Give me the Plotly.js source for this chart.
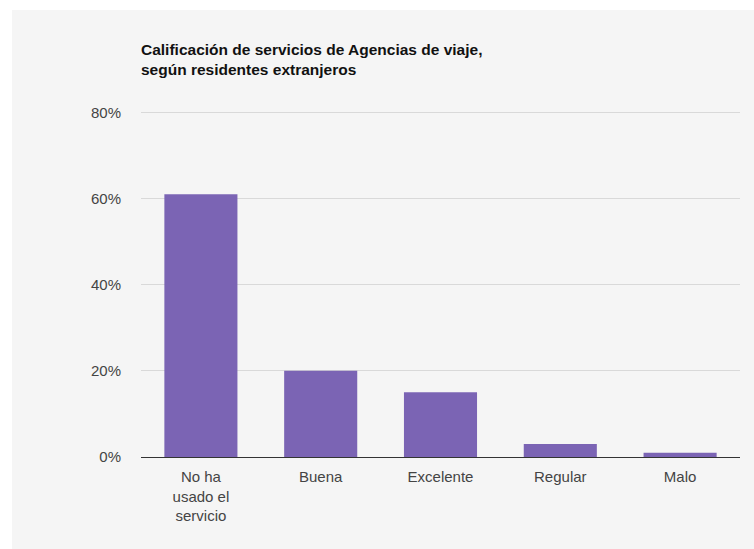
<!DOCTYPE html>
<html>
<head>
<meta charset="utf-8">
<script src="https://cdn.plot.ly/plotly-3.0.1.min.js"></script>
<style>
  html, body { margin: 0; padding: 0; background: #ffffff; width: 754px; height: 549px; overflow: hidden; }
  #chart { position: absolute; left: 12px; top: 10px; width: 742px; height: 539px; }
</style>
</head>
<body>
<div id="chart"></div>
<script>
const categories = ["No ha<br>usado el<br>servicio", "Buena", "Excelente", "Regular", "Malo"];
const values = [61, 20, 15, 3, 1];
const yTicks = [0, 20, 40, 60, 80];
const yTickLabels = ["0%", "20%", "40%", "60%", "80%"];
const titleText = "Calificación de servicios de Agencias de viaje,<br>según residentes extranjeros";

const trace = {
  type: "bar",
  x: categories,
  y: values,
  marker: { color: "#7b64b4", line: { width: 0 } },
  hoverinfo: "x+y"
};

const layout = {
  width: 742,
  height: 539,
  paper_bgcolor: "#f5f5f5",
  plot_bgcolor: "#f5f5f5",
  margin: { l: 129, r: 14, t: 98, b: 92 },
  bargap: 0.39,
  showlegend: false,
  font: { family: "Liberation Sans, Arial, sans-serif", color: "#444444", size: 15 },
  title: {
    text: titleText,
    font: { family: "Liberation Sans, Arial, sans-serif", size: 15.5, color: "#111111", weight: "bold" },
    xref: "paper", x: 0, xanchor: "left",
    yref: "container", y: 0.917, yanchor: "middle"
  },
  xaxis: {
    type: "category",
    showgrid: false,
    zeroline: false,
    showline: false,
    ticks: "outside",
    ticklen: 6,
    tickcolor: "rgba(0,0,0,0)",
    tickfont: { size: 15, color: "#444444" }
  },
  yaxis: {
    range: [0, 81],
    tickmode: "array",
    tickvals: yTicks,
    ticktext: yTickLabels,
    showgrid: true,
    gridcolor: "#d9d9d9",
    gridwidth: 1,
    zeroline: true,
    zerolinecolor: "#333333",
    zerolinewidth: 1,
    showline: false,
    ticks: "outside",
    ticklen: 16,
    tickcolor: "rgba(0,0,0,0)",
    tickfont: { size: 15, color: "#444444" },
    fixedrange: true
  }
};

Plotly.newPlot("chart", [trace], layout, { displayModeBar: false, staticPlot: true });
</script>
</body>
</html>
